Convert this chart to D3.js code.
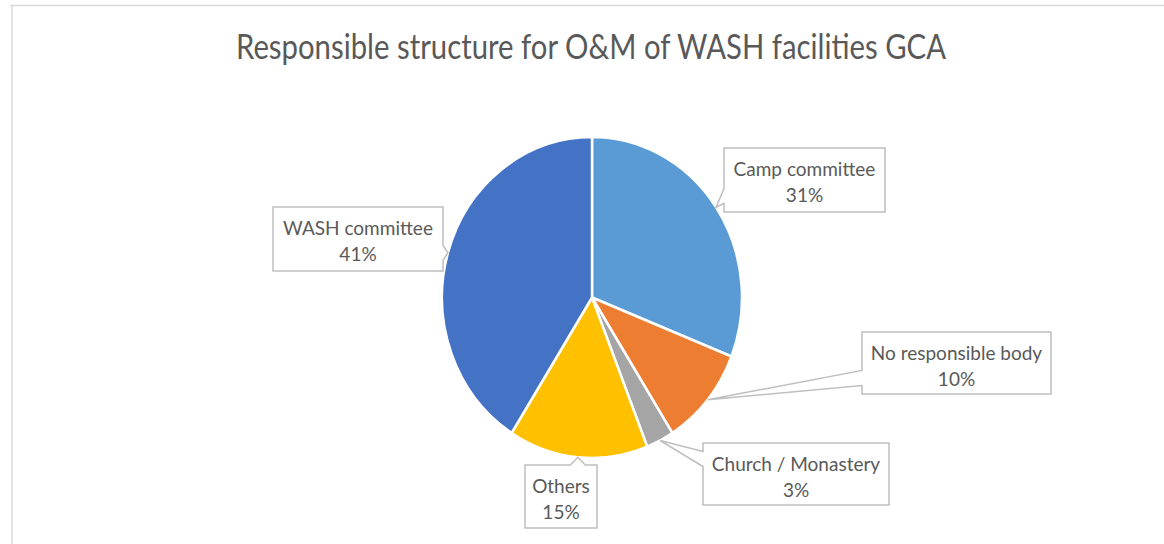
<!DOCTYPE html>
<html>
<head>
<meta charset="utf-8">
<script src="https://cdn.jsdelivr.net/npm/d3@7"></script>
<style>
  html, body { margin: 0; padding: 0; background: #ffffff; }
  svg { display: block; }
</style>
</head>
<body>
<svg id="chart" width="1164" height="544"></svg>
<script>
// Data
const title = "Responsible structure for O&M of WASH facilities GCA";
const categories = ["Camp committee", "No responsible body", "Church / Monastery", "Others", "WASH committee"];
const values = [31, 10, 3, 15, 41];
const sliceColors = ["#5B9BD5", "#ED7D31", "#A5A5A5", "#FFC000", "#4472C4"];

// Callout box placement (left, top, width, height, side carrying the pointer)
const calloutBoxes = [
  { left: 724, top: 148, w: 161, h: 64, side: "left" },
  { left: 862, top: 332, w: 189, h: 62, side: "left" },
  { left: 703, top: 443, w: 186, h: 62, side: "left" },
  { left: 525, top: 465, w: 72,  h: 63, side: "top" },
  { left: 273, top: 207, w: 170, h: 64, side: "right" }
];

const W = 1164, H = 544;
const cx = 592, cy = 297.5, rx = 150, ry = 160.5;
const textColor = "#595959";
const fontFamily = "Lato, 'Open Sans', sans-serif";

const svg = d3.select("#chart");

// Chart area frame (top and left edges)
svg.append("line").attr("x1", 10).attr("x2", W).attr("y1", 5.5).attr("y2", 5.5)
  .attr("stroke", "#d9d9d9").attr("stroke-width", 1.5);
svg.append("line").attr("x1", 12).attr("x2", 12).attr("y1", 5).attr("y2", H)
  .attr("stroke", "#d9d9d9").attr("stroke-width", 1.5);

// Title
svg.append("text")
  .attr("x", 591).attr("y", 59)
  .attr("text-anchor", "middle")
  .attr("font-family", fontFamily)
  .attr("font-size", 34)
  .attr("fill", textColor)
  .attr("textLength", 710)
  .attr("lengthAdjust", "spacingAndGlyphs")
  .text(title);

// Pie
const data = categories.map((c, i) => ({ name: c, value: values[i], color: sliceColors[i], box: calloutBoxes[i] }));
const pie = d3.pie().sort(null).value(d => d.value);
const arcs = pie(data);
const arc = d3.arc().innerRadius(0).outerRadius(rx);

const g = svg.append("g").attr("transform", `translate(${cx},${cy}) scale(1,${ry / rx})`);
g.selectAll("path")
  .data(arcs)
  .join("path")
  .attr("d", arc)
  .attr("fill", d => d.data.color)
  .attr("stroke", "#ffffff")
  .attr("stroke-width", 2.5);

// Callouts
function calloutPath(b, tip) {
  const L = b.left, T = b.top, R = b.left + b.w, B = b.top + b.h;
  const hw = 7.5, pad = 16;
  if (b.side === "left") {
    const c = Math.max(T + pad, Math.min(B - pad, tip[1]));
    return `M${L},${T}H${R}V${B}H${L}V${c + hw}L${tip[0]},${tip[1]}L${L},${c - hw}Z`;
  }
  if (b.side === "right") {
    const c = Math.max(T + pad, Math.min(B - pad, tip[1]));
    return `M${L},${T}H${R}V${c - hw}L${tip[0]},${tip[1]}L${R},${c + hw}V${B}H${L}Z`;
  }
  const c = Math.max(L + pad, Math.min(R - pad, tip[0]));
  return `M${L},${T}H${c - hw}L${tip[0]},${tip[1]}L${c + hw},${T}H${R}V${B}H${L}Z`;
}

arcs.forEach(a => {
  const mid = (a.startAngle + a.endAngle) / 2;
  const tip = [cx + rx * Math.sin(mid), cy - ry * Math.cos(mid)];
  const b = a.data.box;
  svg.append("path")
    .attr("d", calloutPath(b, tip))
    .attr("fill", "#ffffff")
    .attr("stroke", "#bfbfbf")
    .attr("stroke-width", 1.5)
    .attr("stroke-linejoin", "miter");
  const tx = b.left + b.w / 2;
  const lbl = svg.append("text")
    .attr("text-anchor", "middle")
    .attr("font-family", fontFamily)
    .attr("font-size", 19)
    .attr("fill", textColor);
  lbl.append("tspan").attr("x", tx).attr("y", b.top + 28).text(a.data.name);
  lbl.append("tspan").attr("x", tx).attr("y", b.top + 54).text(Math.round(a.data.value) + "%");
});
</script>
</body>
</html>
